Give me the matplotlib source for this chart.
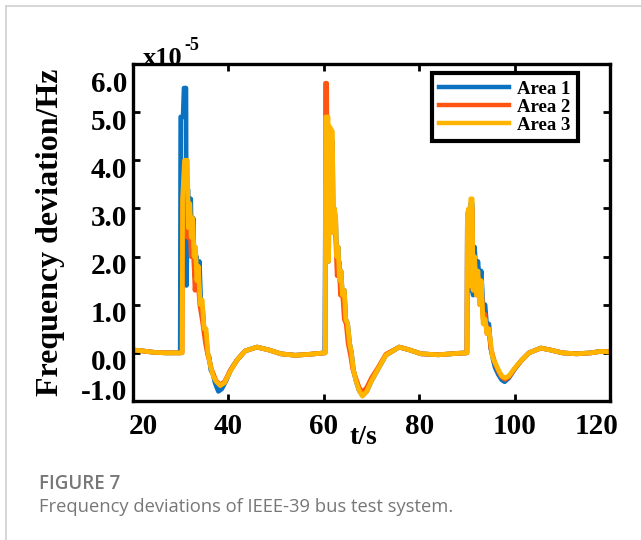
import matplotlib
matplotlib.use('Agg')
from matplotlib import pyplot as plt
from matplotlib.transforms import ScaledTranslation

# time (s) and frequency deviation (x1e-5 Hz)
area1_t = [20, 22, 24.5, 27, 29.9,
           30.0, 30.5, 30.7, 31.1, 31.2, 31.5, 31.8, 32.1, 32.3, 32.6, 32.9, 33.3, 33.6, 33.9,
           34.2, 34.6, 34.9, 35.3, 35.6, 36.0, 36.3, 36.8, 37.2, 37.9, 38.6, 39.5, 40.5, 41.8,
           43.5, 46.0, 48.5, 51.0, 54.0, 57.0, 60.2,
           60.3, 60.4, 60.9, 61.0, 61.2, 61.8, 62.0, 62.2, 62.5, 62.7, 63.0, 63.3, 63.6, 63.9,
           64.3, 64.6, 65.0, 65.4, 65.8, 66.2, 66.8, 67.4, 68.1, 69.0, 70.0, 71.3, 73.0, 75.8,
           78.0, 80.4, 84.0, 88.0, 90.0,
           90.1, 90.4, 90.6, 90.8, 91.1, 91.3, 91.6, 92.0, 92.3, 92.7, 93.0, 93.4, 93.8, 94.2,
           94.6, 95.0, 95.4, 95.9, 96.6, 97.3, 97.9, 98.8, 100.0, 101.5, 103.0, 105.5, 107.5,
           110.0, 113.0, 116.0, 118.0, 120.0]
area1_v = [0.06, 0.04, 0.01, 0.0, 0.0,
           4.9, 4.9, 5.5, 5.5, 1.4, 3.4, 2.3, 3.2, 2.0, 2.8, 1.6, 2.0, 1.3, 1.9,
           1.1, 0.9, 0.5, 0.4, 0.0, -0.1, -0.35, -0.45, -0.62, -0.8, -0.75, -0.58, -0.35, -0.15,
           0.04, 0.12, 0.06, -0.02, -0.05, -0.03, 0.0,
           1.9, 4.6, 4.6, 1.9, 4.5, 4.4, 2.6, 3.0, 2.7, 2.0, 2.2, 1.5, 1.7, 1.2,
           1.3, 0.7, 0.6, 0.2, 0.0, -0.35, -0.6, -0.78, -0.88, -0.8, -0.58, -0.35, -0.05, 0.12,
           0.06, -0.02, -0.04, -0.01, 0.0,
           2.8, 2.9, 1.3, 3.1, 3.1, 1.2, 2.2, 1.5, 1.9, 1.4, 1.7, 0.9, 1.0, 0.5,
           0.6, 0.1, -0.1, -0.3, -0.45, -0.56, -0.6, -0.52, -0.34, -0.15, 0.0, 0.1, 0.06,
           0.0, -0.02, 0.0, 0.03, 0.02]

area2_t = [20, 22, 24.5, 27, 30.3,
           30.4, 30.7, 31.1, 31.4, 31.8, 32.2, 32.6, 33.0, 33.5, 34.0, 34.5, 35.2, 35.7, 36.5,
           37.4, 38.3, 39.2, 40.3, 41.8, 43.5, 46.0, 48.5, 51.0, 54.0, 57.0, 60.2,
           60.3, 60.35, 60.6, 60.8, 61.0, 61.7, 61.9, 62.2, 62.5, 62.8, 63.2, 63.5, 63.9, 64.3,
           64.7, 65.1, 65.6, 66.1, 66.8, 67.4, 68.1, 69.0, 70.0, 71.3, 73.0, 75.8, 78.0, 80.4,
           84.0, 88.0, 90.0,
           90.1, 90.4, 90.6, 90.8, 91.1, 91.3, 91.6, 92.0, 92.3, 92.7, 93.0, 93.4, 93.8, 94.2,
           94.6, 95.0, 95.4, 95.9, 96.6, 97.3, 98.0, 98.8, 100.0, 101.5, 103.0, 105.5, 107.5,
           110.0, 113.0, 116.0, 118.0, 120.0]
area2_v = [0.06, 0.04, 0.01, 0.0, 0.0,
           3.0, 3.7, 3.5, 2.4, 3.0, 2.0, 2.4, 1.3, 1.7, 1.0, 0.7, 0.2, -0.05, -0.35,
           -0.58, -0.66, -0.6, -0.38, -0.15, 0.04, 0.12, 0.06, -0.02, -0.05, -0.03, 0.0,
           0.0, 5.6, 5.6, 2.0, 4.5, 4.4, 2.5, 2.9, 2.4, 1.6, 1.9, 1.2, 1.3, 0.7,
           0.6, 0.2, -0.05, -0.35, -0.55, -0.72, -0.82, -0.72, -0.52, -0.32, -0.03, 0.12, 0.06, -0.02,
           -0.04, -0.01, 0.0,
           2.8, 2.9, 1.4, 3.0, 3.0, 1.3, 1.9, 1.2, 1.6, 1.0, 1.4, 0.7, 0.8, 0.4,
           0.5, 0.1, -0.05, -0.22, -0.38, -0.5, -0.55, -0.5, -0.33, -0.15, 0.0, 0.1, 0.06,
           0.0, -0.02, 0.0, 0.03, 0.02]

area3_t = [20, 22, 24.5, 27, 30.3,
           30.4, 30.8, 31.4, 31.6, 31.9, 32.2, 32.5, 32.8, 33.1, 33.4, 33.7, 34.1, 34.5, 34.9,
           35.3, 35.7, 36.3, 36.9, 37.5, 38.3, 39.2, 40.3, 41.8, 43.5, 46.0, 48.5, 51.0, 54.0,
           57.0, 60.2,
           60.3, 60.4, 60.9, 61.0, 61.2, 61.8, 62.0, 62.2, 62.5, 62.7, 63.0, 63.3, 63.6, 63.9,
           64.3, 64.6, 65.0, 65.4, 65.8, 66.2, 66.8, 67.4, 68.1, 69.0, 70.0, 71.3, 73.0, 75.8,
           78.0, 80.4, 84.0, 88.0, 90.0,
           90.1, 90.4, 90.6, 90.8, 91.1, 91.3, 91.6, 92.0, 92.3, 92.7, 93.0, 93.4, 93.8, 94.2,
           94.6, 95.0, 95.4, 95.9, 96.6, 97.3, 98.0, 98.8, 100.0, 101.5, 103.0, 105.5, 107.5,
           110.0, 113.0, 116.0, 118.0, 120.0]
area3_v = [0.06, 0.04, 0.01, 0.0, 0.0,
           3.2, 4.0, 4.0, 2.6, 3.1, 2.4, 2.8, 2.0, 2.2, 1.5, 1.8, 1.0, 1.1, 0.5,
           0.5, 0.0, -0.3, -0.5, -0.6, -0.68, -0.62, -0.4, -0.15, 0.04, 0.12, 0.06, -0.02, -0.05,
           -0.03, 0.0,
           0.0, 4.9, 4.9, 1.9, 4.7, 4.6, 2.5, 3.0, 2.8, 2.0, 2.2, 1.5, 1.7, 1.2,
           1.3, 0.7, 0.6, 0.2, 0.0, -0.35, -0.6, -0.78, -0.9, -0.8, -0.58, -0.35, -0.05, 0.12,
           0.06, -0.02, -0.04, -0.01, 0.0,
           2.9, 3.0, 1.4, 3.2, 3.2, 1.3, 2.0, 1.2, 1.7, 1.0, 1.5, 0.6, 0.7, 0.4,
           0.5, 0.2, -0.1, -0.2, -0.35, -0.48, -0.52, -0.48, -0.32, -0.15, 0.0, 0.1, 0.06,
           0.0, -0.02, 0.0, 0.03, 0.02]

x_ticks = [20, 40, 60, 80, 100, 120]
y_ticks = [-1.0, 0.0, 1.0, 2.0, 3.0, 4.0, 5.0, 6.0]
labels = ['Area 1', 'Area 2', 'Area 3']
colors = ['#0A72C0', '#FF5512', '#FFB400']

serif = 'Liberation Serif'
W, H = 641, 540
fig = plt.figure(figsize=(W / 100, H / 100), dpi=100)

# page frame lines (top + left)
fig.add_artist(plt.Line2D([6 / W, 1], [1 - 6 / H, 1 - 6 / H], color='#d0d0d0', lw=1.2))
fig.add_artist(plt.Line2D([6 / W, 6 / W], [0, 1 - 6 / H], color='#d0d0d0', lw=1.2))

ax = fig.add_axes([133 / W, 1 - 401 / H, 477 / W, 337 / H])
for t, v, c, lab in zip([area1_t, area2_t, area3_t], [area1_v, area2_v, area3_v], colors, labels):
    ax.plot(t, v, color=c, lw=3.4, label=lab, solid_joinstyle='round')

ax.set_xlim(20, 120)
ax.set_ylim(-1, 6)
ax.set_xticks(x_ticks)
ax.set_yticks(y_ticks)
ax.set_xticklabels([str(x) for x in x_ticks])
ax.set_yticklabels(['%.1f' % y for y in y_ticks])
for s in ax.spines.values():
    s.set_linewidth(2.4)
ax.tick_params(direction='in', length=5, width=2, top=True, right=True,
               labelsize=21, pad=4)
for lab in ax.get_xticklabels() + ax.get_yticklabels():
    lab.set_fontfamily(serif)
    lab.set_fontweight('bold')
ax.tick_params(axis='x', pad=9)

# nudge the end labels the way the original has them
def nudge(lab, dx, dy):
    lab.set_transform(lab.get_transform() + ScaledTranslation(dx / 100, dy / 100, fig.dpi_scale_trans))

xl = ax.get_xticklabels()
nudge(xl[0], 10, 0)
nudge(xl[-1], -13, 0)
yl = ax.get_yticklabels()
for i, lab in enumerate(yl):
    if i == 0:
        nudge(lab, 0, 12)
    elif i == len(yl) - 1:
        nudge(lab, 0, -18)
    else:
        nudge(lab, 0, -7)

ax.set_ylabel('Frequency deviation/Hz', fontfamily=serif, fontweight='bold',
              fontsize=23, va='center')
ax.yaxis.set_label_coords(-0.174, 0.5)
ax.set_xlabel('t/s', fontfamily=serif, fontweight='bold', fontsize=20, va='center')
ax.xaxis.set_label_coords(0.482, -0.107)

fig.text(143 / W, 1 - 65 / H, 'x10', fontfamily=serif, fontweight='bold', fontsize=19,
         va='baseline', ha='left')
fig.text(184 / W, 1 - 50 / H, '-5', fontfamily=serif, fontweight='bold', fontsize=13,
         va='baseline', ha='left')

leg = ax.legend(loc='upper right', bbox_to_anchor=(0.933, 0.972), borderaxespad=0,
                prop={'family': serif, 'weight': 'bold', 'size': 13.5},
                handlelength=3.7, handletextpad=0.45, labelspacing=0.04,
                borderpad=0.4, fancybox=False, framealpha=1)
leg.get_frame().set_edgecolor('black')
leg.get_frame().set_linewidth(3.0)
for ln in leg.get_lines():
    ln.set_linewidth(3.2)

fig.text(39 / W, 1 - 484 / H, 'FIGURE 7', fontfamily='Open Sans', fontweight='semibold',
         fontsize=13.5, color='#777777', va='center', ha='left')
fig.text(39 / W, 1 - 507 / H, 'Frequency deviations of IEEE-39 bus test system.',
         fontfamily='Open Sans', fontsize=13.2, color='#777777', va='center', ha='left')

fig.savefig('out.png', dpi=100)
